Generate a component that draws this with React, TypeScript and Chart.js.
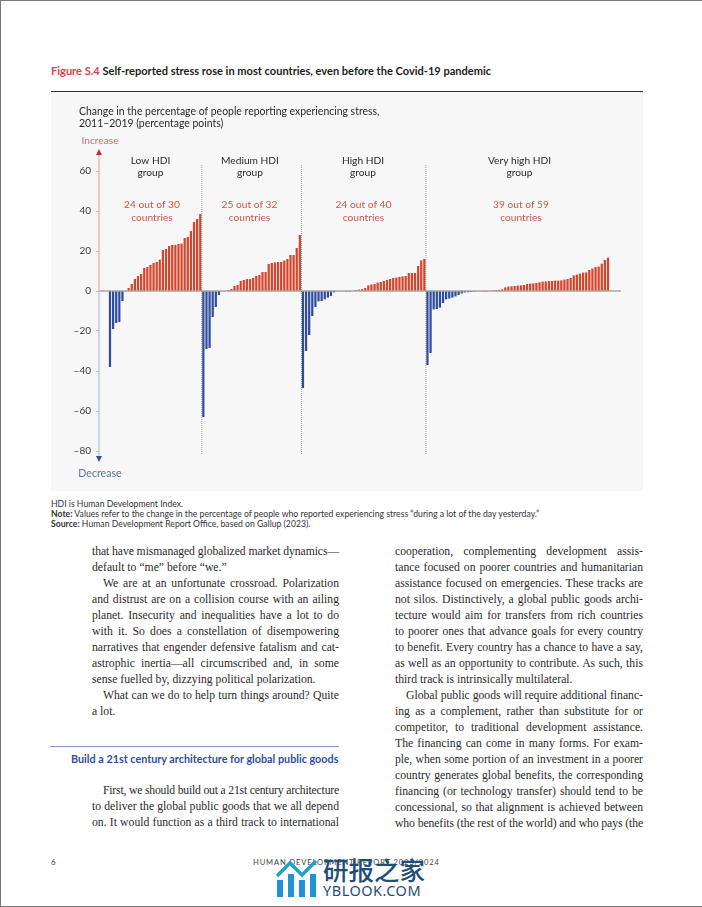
import React, { useEffect, useLayoutEffect, useRef } from "react";
import { Chart, registerables } from "chart.js";

Chart.register(...registerables);

const lowHdi = [-38, -19, -16, -15.5, -5, -0.3, 1.5, 3.5, 6, 7.5, 8.5, 11.5, 12, 13, 14, 14.5, 15.7, 20.5, 21, 22.5, 23, 23, 23.5, 23.7, 26.5, 27, 30, 34.5, 36, 38.5];
const mediumHdi = [-63, -29, -28.5, -13, -8, -2, -0.2, 0.2, 0.5, 1, 2.5, 3, 5, 5.5, 6, 6, 6.5, 7.5, 8, 9.5, 9.5, 13.5, 14, 14.3, 14.5, 14.5, 15.2, 16, 18, 18, 21.5, 28];
const highHdi = [-48.5, -30, -22, -12.5, -8, -5.2, -5, -4.2, -3.3, -2.5, -0.7, -0.3, -0.2, -0.2, -0.1, -0.1, 0.3, 0.5, 0.7, 0.9, 1.5, 2.8, 3.2, 3.5, 4.2, 4.5, 5, 5.5, 6, 6.5, 6.7, 7, 7.3, 7.5, 9, 9, 9, 12.5, 15.3, 16];
const veryHighHdi = [-37, -31, -9.2, -9, -8.3, -6, -4.2, -3.8, -3.3, -2.7, -2, -1.2, -0.7, -0.6, -0.5, -0.4, -0.3, -0.2, -0.1, -0.1, 0.3, 0.4, 0.5, 0.6, 0.8, 1.8, 2.2, 2.3, 2.5, 2.7, 2.8, 3, 3.5, 3.7, 3.8, 4, 4.3, 4.7, 4.8, 5, 5, 5.2, 5.2, 5.3, 5.7, 6, 6.5, 7.8, 8.2, 8.7, 9.2, 9.3, 10.5, 11.2, 12, 12.2, 13.7, 15.5, 16.7];
const groups = [lowHdi, mediumHdi, highHdi, veryHighHdi];
const groupNames = [["Low HDI", "group"], ["Medium HDI", "group"], ["High HDI", "group"], ["Very high HDI", "group"]];
const groupCounts = [["24 out of 30", "countries"], ["25 out of 32", "countries"], ["24 out of 40", "countries"], ["39 out of 59", "countries"]];
const yTicks = [-80, -60, -40, -20, 0, 20, 40, 60];

const SANS = "Lato, 'Open Sans', sans-serif";
const RED = "#d5452c";
const BLUE = "#2f4d9e";
const GROUP_NAME_X = [150.5, 250, 363, 519.5];
const GROUP_COUNT_X = [152, 249.5, 363.5, 521];

type Line = [string, number, boolean, boolean];
const leftLines: Line[] = [
  ["that have mismanaged globalized market dynamics—", 551, true, false],
  ["default to “me” before “we.”", 567, false, false],
  ["We are at an unfortunate crossroad. Polarization", 583, true, true],
  ["and distrust are on a collision course with an ailing", 599, true, false],
  ["planet. Insecurity and inequalities have a lot to do", 615, true, false],
  ["with it. So does a constellation of disempowering", 631, true, false],
  ["narratives that engender defensive fatalism and cat-", 647, true, false],
  ["astrophic inertia—all circumscribed and, in some", 663, true, false],
  ["sense fuelled by, dizzying political polarization.", 679, false, false],
  ["What can we do to help turn things around? Quite", 695, true, true],
  ["a lot.", 711, false, false],
  ["First, we should build out a 21st century architecture", 790, true, true],
  ["to deliver the global public goods that we all depend", 806, true, false],
  ["on. It would function as a third track to international", 822, true, false],
];
const rightLines: Line[] = [
  ["cooperation, complementing development assis-", 551, true, false],
  ["tance focused on poorer countries and humanitarian", 567, true, false],
  ["assistance focused on emergencies. These tracks are", 583, true, false],
  ["not silos. Distinctively, a global public goods archi-", 599, true, false],
  ["tecture would aim for transfers from rich countries", 615, true, false],
  ["to poorer ones that advance goals for every country", 631, true, false],
  ["to benefit. Every country has a chance to have a say,", 647, true, false],
  ["as well as an opportunity to contribute. As such, this", 663, true, false],
  ["third track is intrinsically multilateral.", 679, false, false],
  ["Global public goods will require additional financ-", 695, true, true],
  ["ing as a complement, rather than substitute for or", 711, true, false],
  ["competitor, to traditional development assistance.", 727, true, false],
  ["The financing can come in many forms. For exam-", 743, true, false],
  ["ple, when some portion of an investment in a poorer", 759, true, false],
  ["country generates global benefits, the corresponding", 775, true, false],
  ["financing (or technology transfer) should tend to be", 791, true, false],
  ["concessional, so that alignment is achieved between", 807, true, false],
  ["who benefits (the rest of the world) and who pays (the", 823, true, false],
];

document.body.style.margin = "0";

const abs = (left: number, top: number, extra: React.CSSProperties = {}): React.CSSProperties => ({
  position: "absolute", left, top, whiteSpace: "nowrap", ...extra,
});

function Column({ lines, x, width }: { lines: Line[]; x: number; width: number }) {
  const box = useRef<HTMLDivElement | null>(null);
  useLayoutEffect(() => {
    const spans = box.current!.querySelectorAll("span");
    spans.forEach((s: any, i: number) => {
      const [t, , just, indent] = lines[i];
      if (!just) return;
      const target = width - (indent ? 11 : 0);
      const delta = target - s.getBoundingClientRect().width;
      if (delta >= 0) s.style.wordSpacing = `${delta / (t.split(" ").length - 1)}px`;
      else s.style.letterSpacing = `${delta / t.length}px`;
    });
  }, []);
  return (
    <div ref={box}>
      {lines.map(([t, y, , indent], i) => (
        <div key={i} style={{
          position: "absolute", left: x + (indent ? 11 : 0), top: y - 7, height: 16, lineHeight: "16px",
          fontFamily: "'Liberation Serif', serif", fontSize: 11.7, color: "#2b2b2b", whiteSpace: "nowrap",
        }}><span>{t}</span></div>
      ))}
    </div>
  );
}

export default function App() {
  const ref = useRef<HTMLCanvasElement | null>(null);
  useEffect(() => {
    const values = groups.flat();
    const data = values.map((y, x) => ({ x, y }));
    const boundaries: number[] = [];
    let c = 0;
    groups.slice(0, -1).forEach((g) => { c += g.length; boundaries.push(c - 0.5); });

    const overlay = {
      id: "overlay",
      beforeDatasetsDraw(chart: any) {
        const { ctx, scales } = chart;
        ctx.save();
        ctx.strokeStyle = "#9a9a9a";
        ctx.lineWidth = 0.9;
        ctx.setLineDash([1, 1]);
        boundaries.forEach((b) => {
          const px = scales.x.getPixelForValue(b);
          ctx.beginPath();
          ctx.moveTo(px, scales.y.getPixelForValue(63));
          ctx.lineTo(px, scales.y.getPixelForValue(-82));
          ctx.stroke();
        });
        ctx.restore();
      },
      afterDatasetsDraw(chart: any) {
        const { ctx, scales, chartArea } = chart;
        const ox = 51, oy = 92;
        const y0 = scales.y.getPixelForValue(0);
        ctx.save();
        ctx.strokeStyle = "#6d5f5c";
        ctx.lineWidth = 0.8;
        ctx.beginPath(); ctx.moveTo(chartArea.left, y0); ctx.lineTo(chartArea.right, y0); ctx.stroke();
        const ax = chartArea.left;
        ctx.lineWidth = 1;
        ctx.strokeStyle = "#eb9a9a";
        ctx.beginPath(); ctx.moveTo(ax, chartArea.top + 3); ctx.lineTo(ax, y0); ctx.stroke();
        ctx.strokeStyle = "#a5b3d8";
        ctx.beginPath(); ctx.moveTo(ax, y0); ctx.lineTo(ax, chartArea.bottom - 4); ctx.stroke();
        ctx.fillStyle = "#c22d3d";
        ctx.beginPath(); ctx.moveTo(ax, chartArea.top - 2); ctx.lineTo(ax - 3, chartArea.top + 4); ctx.lineTo(ax + 3, chartArea.top + 4); ctx.fill();
        ctx.fillStyle = BLUE;
        ctx.beginPath(); ctx.moveTo(ax, chartArea.bottom + 1); ctx.lineTo(ax - 3, chartArea.bottom - 5); ctx.lineTo(ax + 3, chartArea.bottom - 5); ctx.fill();

        ctx.textAlign = "center";
        ctx.textBaseline = "middle";
        ctx.font = `10.2px ${SANS}`;
        ctx.fillStyle = "#2a2a2a";
        groupNames.forEach((lines, i) => {
          ctx.fillText(lines[0], GROUP_NAME_X[i] - ox, 160.6 - oy);
          ctx.fillText(lines[1], GROUP_NAME_X[i] - ox, 173.2 - oy);
        });
        ctx.fillStyle = "#c9574c";
        groupCounts.forEach((lines, i) => {
          ctx.fillText(lines[0], GROUP_COUNT_X[i] - ox, 204.6 - oy);
          ctx.fillText(lines[1], GROUP_COUNT_X[i] - ox, 217.3 - oy);
        });
        ctx.fillStyle = "#d06a6a";
        ctx.fillText("Increase", 100 - ox, 140.5 - oy);
        ctx.fillStyle = "#5a6fae";
        ctx.font = `10.6px ${SANS}`;
        ctx.fillText("Decrease", 100 - ox, 473.5 - oy);
        ctx.textAlign = "left";
        ctx.font = `10.45px ${SANS}`;
        ctx.fillStyle = "#2a2a2a";
        ctx.fillText("Change in the percentage of people reporting experiencing stress,", 79 - ox, 111.5 - oy);
        ctx.fillText("2011–2019 (percentage points)", 79 - ox, 124 - oy);
        ctx.restore();
      },
    };

    const chart = new Chart(ref.current!, {
      type: "bar",
      data: {
        datasets: [{
          data: data as any,
          backgroundColor: values.map((v) => (v >= 0 ? RED : BLUE)),
          barPercentage: 0.72,
          categoryPercentage: 1,
        }],
      },
      options: {
        responsive: false,
        animation: false,
        devicePixelRatio: 1,
        layout: { padding: { left: 0, right: 22, top: 59, bottom: 30 } },
        plugins: { legend: { display: false }, tooltip: { enabled: false }, title: { display: false } },
        scales: {
          x: { type: "linear", display: false, offset: false, min: -3.53, max: 164.18 },
          y: {
            min: -85,
            max: 70,
            afterBuildTicks: (s: any) => { s.ticks = yTicks.map((value) => ({ value })); },
            afterFit: (s: any) => { s.width = 48; },
            grid: { drawOnChartArea: false, drawTicks: true, tickLength: 3, color: "#bdbdbd", lineWidth: 1 },
            border: { display: false },
            ticks: {
              padding: 5,
              color: "#3a3a3a",
              font: { family: SANS, size: 10 },
              callback: (v: any) => (v < 0 ? `–${-v}` : `${v}`),
            },
          },
        },
      },
      plugins: [overlay],
    } as any);
    return () => chart.destroy();
  }, []);

  return (
    <div style={{ position: "relative", width: 702, height: 907, overflow: "hidden", background: "#fff", fontFamily: SANS }}>
      <div style={abs(51, 64, { fontSize: 11.05, lineHeight: "14px", fontWeight: 700, color: "#1d1d1d" })}>
        <span style={{ color: "#e2404a" }}>Figure S.4</span> Self-reported stress rose in most countries, even before the Covid-19 pandemic
      </div>
      <div style={{ position: "absolute", left: 51, top: 91, width: 592, height: 1, background: "#333" }} />
      <canvas ref={ref} width={592} height={399} style={{ position: "absolute", left: 51, top: 92, width: 592, height: 399, background: "#f7f7f7" }} />
      <div style={abs(51, 498.5, { fontSize: 8.66, lineHeight: "10.4px", color: "#333" })}>
        <div>HDI is Human Development Index.</div>
        <div><b>Note:</b> Values refer to the change in the percentage of people who reported experiencing stress “during a lot of the day yesterday.”</div>
        <div><b>Source:</b> Human Development Report Office, based on Gallup (2023).</div>
      </div>
      <Column lines={leftLines} x={92} width={247} />
      <Column lines={rightLines} x={395} width={248} />
      <div style={{ position: "absolute", left: 50, top: 746, width: 289, height: 1, background: "#7f97c9" }} />
      <div style={abs(71, 752, { fontSize: 10.8, lineHeight: "14px", fontWeight: 700, color: "#2f4f9f" })}>Build a 21st century architecture for global public goods</div>
      <div style={abs(51, 857, { fontSize: 8, lineHeight: "10px", color: "#444" })}>6</div>
      <div style={abs(253, 857, { fontSize: 7.6, lineHeight: "10px", color: "#444", letterSpacing: 0.85 })}>HUMAN DEVELOPMENT REPORT 2023/2024</div>
      <svg style={{ position: "absolute", left: 275, top: 858, width: 44, height: 40 }} viewBox="0 0 44 40">
        <rect x="2" y="22" width="6" height="17" fill="#1f93d8" />
        <rect x="13" y="16" width="6" height="23" fill="#1f93d8" />
        <rect x="24" y="22" width="6" height="17" fill="#1f93d8" />
        <rect x="35" y="16" width="6" height="23" fill="#1f93d8" />
        <polyline points="2,18 15,5 27,17 41,3" fill="none" stroke="#21a0c8" strokeWidth="3.5" />
      </svg>
      <div style={abs(323, 854, { fontFamily: "'Noto Sans CJK SC', sans-serif", fontSize: 25.5, lineHeight: "30px", color: "#1f4e79", fontWeight: 500 })}>研报之家</div>
      <div style={abs(323, 883, { fontFamily: "'Noto Sans', sans-serif", fontSize: 14.5, lineHeight: "15px", color: "#1f4e79", letterSpacing: 0.5 })}>YBLOOK.COM</div>
      <div style={{ position: "absolute", inset: 0, border: "1px solid #777", borderRight: "none", pointerEvents: "none" }} />
    </div>
  );
}
